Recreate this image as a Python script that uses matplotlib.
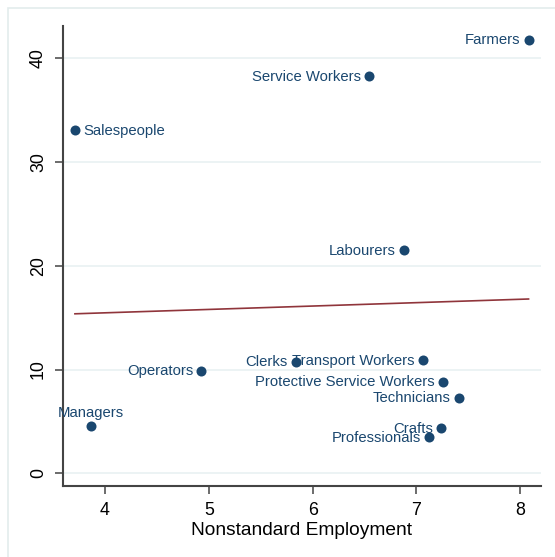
import matplotlib
matplotlib.use("Agg")
import matplotlib.pyplot as plt
from matplotlib.patches import Rectangle
import numpy as np

plt.rcParams['font.family'] = ['Liberation Sans', 'DejaVu Sans']

# occupations
jobs = ['Farmers', 'Service Workers', 'Salespeople', 'Labourers', 'Operators',
        'Managers', 'Clerks', 'Transport Workers', 'Protective Service Workers',
        'Technicians', 'Crafts', 'Professionals']
nonstd = [8.08, 6.545, 3.71, 6.88, 4.925, 3.865, 5.838, 7.062, 7.255, 7.41, 7.24, 7.12]
yval = [41.8, 38.3, 33.07, 21.5, 9.88, 4.56, 10.75, 10.92, 8.83, 7.28, 4.33, 3.5]
# label position like stata clock: 9 = left, 3 = right, 12 = above
pos = [9, 9, 3, 9, 9, 12, 9, 9, 9, 9, 9, 9]

navy = '#1a476f'
maroon = '#90353b'

fig = plt.figure(figsize=(5.55, 5.57), dpi=100)
W, H = 555, 557
ax = fig.add_axes([63 / W, 1 - 485.7 / H, (540.7 - 63) / W, (485.7 - 26) / H])

# graph region frame
fig.patches.append(Rectangle((7.5 / W, -0.1), 1.1, 1 - 7.5 / H + 0.1,
                             transform=fig.transFigure, fill=False,
                             edgecolor='#e3ecec', lw=1.2))

ax.set_xlim(3.595, 8.197)
ax.set_ylim(-1.195, 43.11)

for v in [0, 10, 20, 30, 40]:
    ax.axhline(v, color='#eaf2f3', lw=1.3, zorder=0)

# linear fit
b, a = np.polyfit(nonstd, yval, 1)
xs = np.array([min(nonstd), max(nonstd)])
ax.plot(xs, a + b * xs, color=maroon, lw=1.2, zorder=2)

ax.scatter(nonstd, yval, s=52, color=navy, zorder=3, linewidths=0)

for name, x, y, p in zip(jobs, nonstd, yval, pos):
    if p == 9:
        ax.annotate(name, (x, y), xytext=(-5.8, -0.5), textcoords='offset points',
                    ha='right', va='center', fontsize=10.7, color=navy)
    elif p == 3:
        ax.annotate(name, (x, y), xytext=(5.8, -0.5), textcoords='offset points',
                    ha='left', va='center', fontsize=10.7, color=navy)
    else:
        ax.annotate(name, (x, y), xytext=(0, 4.5), textcoords='offset points',
                    ha='center', va='bottom', fontsize=10.7, color=navy)

ax.set_xticks([4, 5, 6, 7, 8])
ax.set_yticks([0, 10, 20, 30, 40])
ax.tick_params(axis='both', direction='out', length=6, width=1.1,
               color='#444444', labelsize=12.8, pad=5.5)
for t in ax.get_yticklabels():
    t.set_rotation(90)
    t.set_va('center')
ax.set_xlabel('Nonstandard Employment', fontsize=13.8, labelpad=2.5)

for s in ['top', 'right']:
    ax.spines[s].set_visible(False)
for s in ['left', 'bottom']:
    ax.spines[s].set_color('#444444')
    ax.spines[s].set_linewidth(1.5)
ax.set_facecolor('white')

fig.savefig('out.png', dpi=100)
